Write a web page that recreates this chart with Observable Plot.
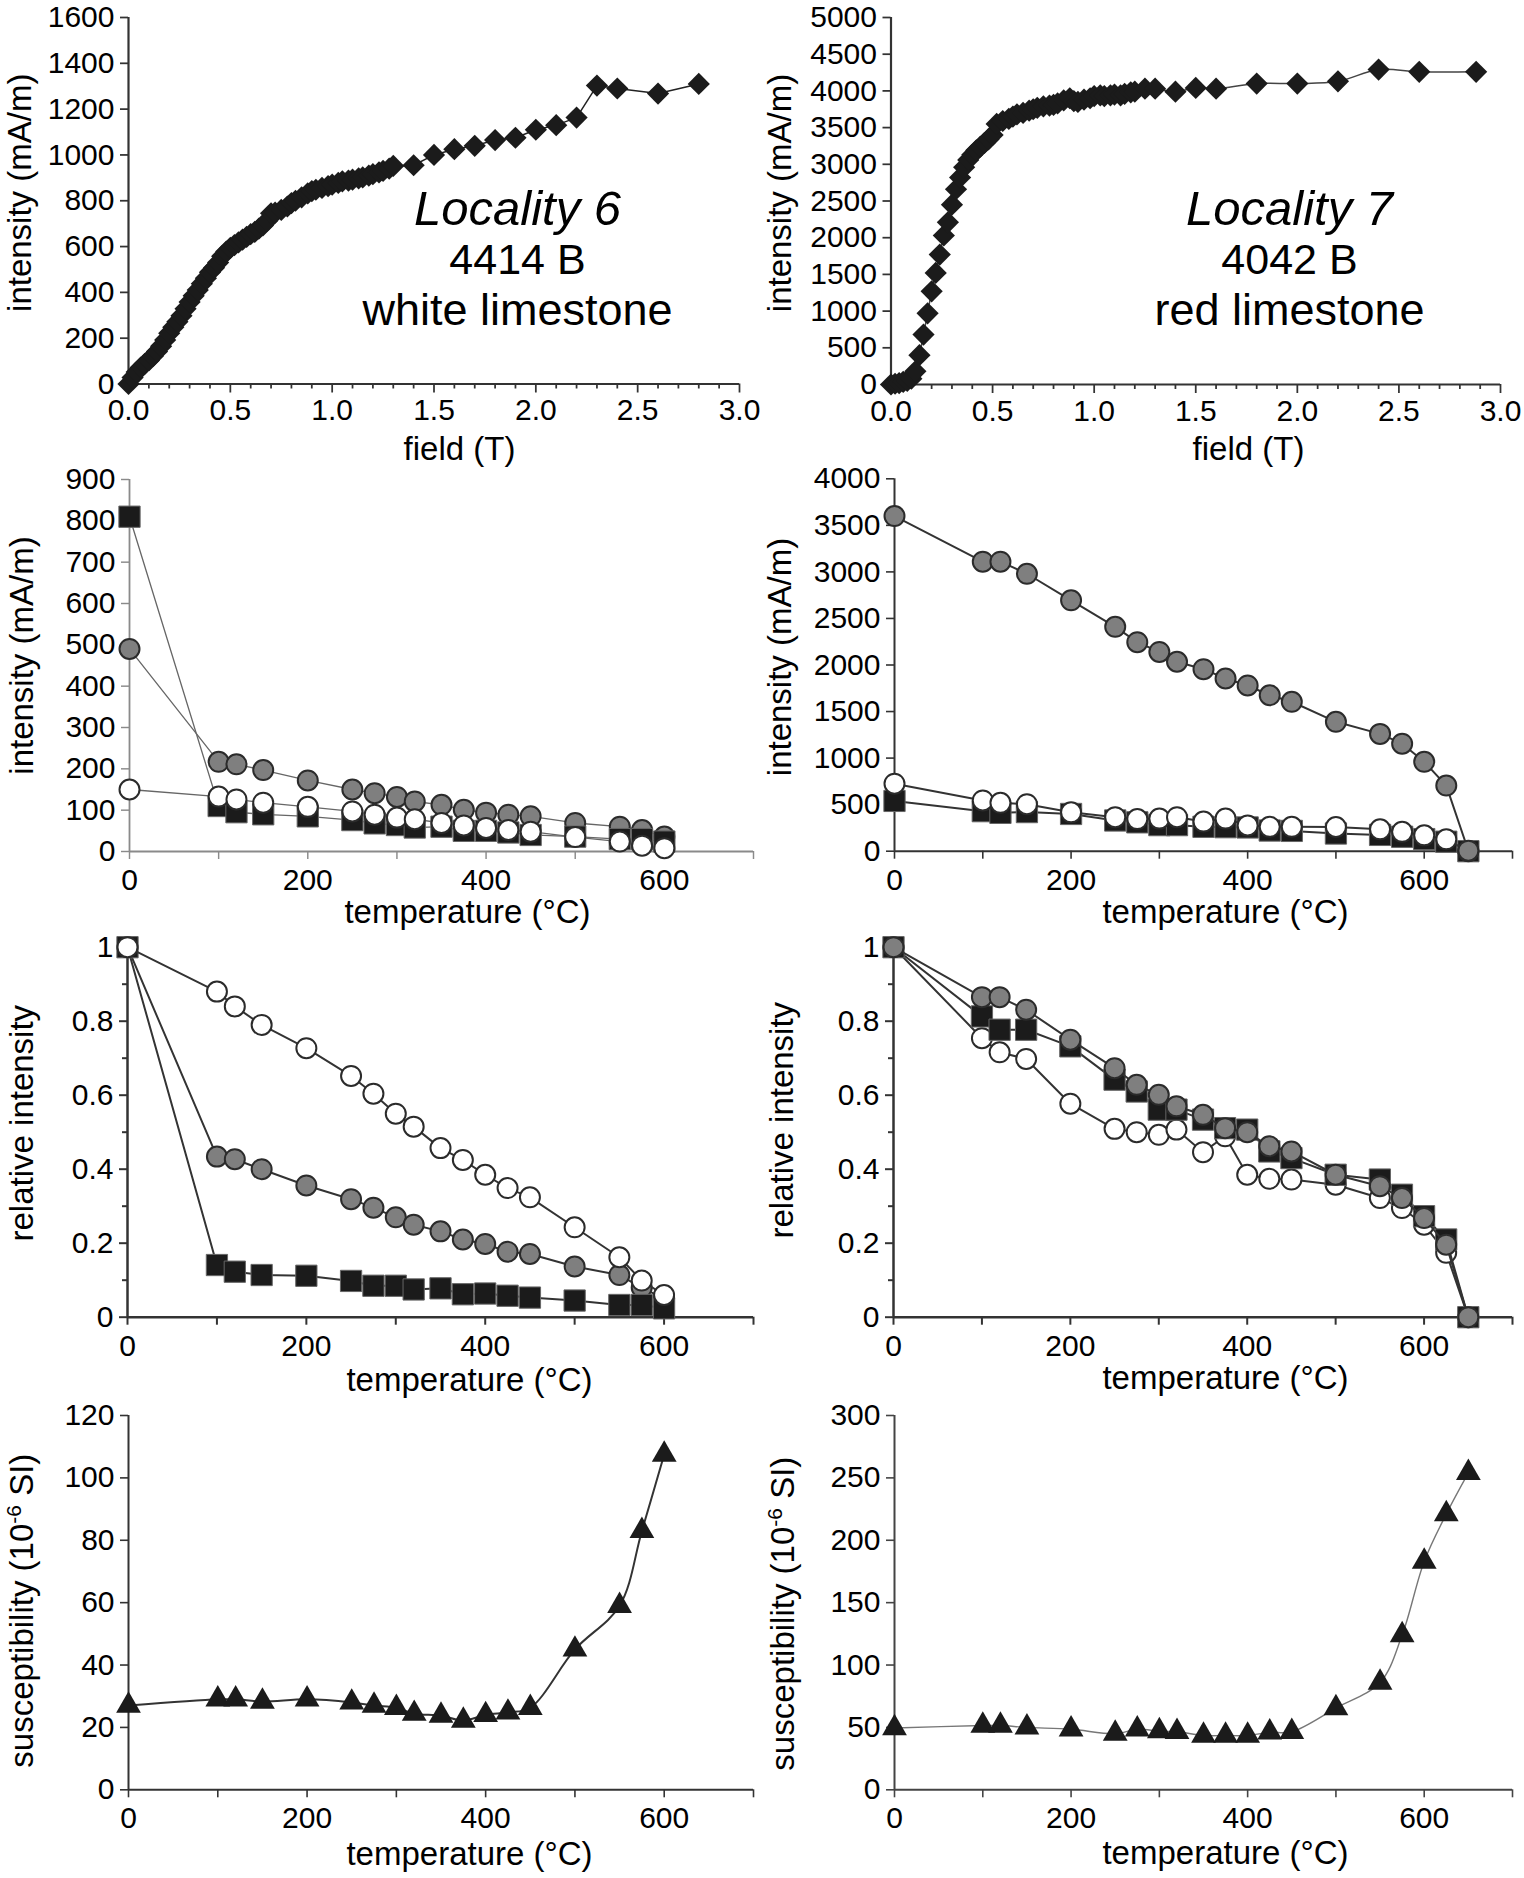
<!DOCTYPE html>
<html><head><meta charset="utf-8">
<script src="https://cdn.jsdelivr.net/npm/d3@7"></script>
<script src="https://cdn.jsdelivr.net/npm/@observablehq/plot@0.6"></script>
<style>
html,body{margin:0;padding:0;background:#fff;}
#wrap{position:relative;width:1524px;height:1878px;overflow:hidden;background:#fff;}
#wrap svg{position:absolute;}
</style></head><body><div id="wrap"></div>
<script>
const FONT = '"Liberation Sans", Arial, Helvetica, sans-serif';

// ---------------- data ----------------
// IRM acquisition, Locality 6 (4414 B, white limestone)
const irm6Field = [0,0.02,0.04,0.06,0.08,0.1,0.12,0.14,0.16,0.18,0.2,0.22,0.24,0.26,0.28,0.3,0.32,0.34,0.36,0.38,0.4,0.42,0.44,0.46,0.48,0.5,0.52,0.54,0.56,0.58,0.6,0.62,0.64,0.66,0.68,0.7,0.72,0.75,0.78,0.8,0.82,0.85,0.88,0.9,0.92,0.95,0.98,1.0,1.03,1.05,1.08,1.1,1.13,1.15,1.18,1.2,1.23,1.25,1.28,1.3,1.4,1.5,1.6,1.7,1.8,1.9,2.0,2.1,2.2,2.3,2.4,2.6,2.8];
const irm6Intensity = [0,28,52,72,88,103,122,142,165,192,222,248,272,298,328,358,385,410,438,462,488,508,530,558,578,594,606,618,630,642,654,664,678,692,712,745,748,760,775,790,800,815,832,842,848,856,864,870,878,885,888,892,898,902,910,916,924,930,940,952,955,1000,1025,1040,1065,1075,1110,1130,1163,1303,1290,1268,1310];
// IRM acquisition, Locality 7 (4042 B, red limestone)
const irm7Field = [0,0.02,0.04,0.06,0.08,0.1,0.12,0.14,0.16,0.18,0.2,0.22,0.24,0.26,0.28,0.3,0.32,0.34,0.36,0.38,0.4,0.42,0.44,0.46,0.48,0.5,0.52,0.55,0.58,0.6,0.62,0.65,0.68,0.7,0.72,0.75,0.78,0.8,0.82,0.85,0.88,0.9,0.92,0.95,0.98,1.0,1.03,1.05,1.08,1.1,1.13,1.15,1.18,1.2,1.25,1.3,1.4,1.5,1.6,1.8,2.0,2.2,2.4,2.6,2.88];
const irm7Intensity = [0,10,20,35,50,80,180,400,680,970,1270,1520,1770,2030,2210,2450,2660,2820,2960,3060,3130,3190,3240,3290,3340,3400,3550,3590,3620,3650,3680,3700,3730,3750,3770,3790,3800,3810,3830,3870,3900,3860,3850,3880,3900,3930,3940,3930,3940,3950,3940,3960,3980,3990,4030,4030,3990,4040,4030,4100,4100,4130,4290,4260,4260];

// thermal demagnetisation steps (°C)
const temps6 = [0,100,120,150,200,250,275,300,320,350,375,400,425,450,500,550,575,600];
const temps7 = [0,100,120,150,200,250,275,300,320,350,375,400,425,450,500,550,575,600,625,650];

// Locality 6 intensities (mA/m)
const int6Square = [810,110,95,90,85,76,68,64,58,60,50,50,46,40,36,30,30,24];
const int6Gray   = [490,217,211,197,172,150,141,132,121,113,101,94,89,85,69,60,52,36];
const int6White  = [150,133,126,118,108,97,89,82,78,69,63,57,52,48,35,24,14,8];
// Locality 7 intensities (mA/m)
const int7Square = [540,430,412,420,400,330,310,280,280,262,258,255,222,218,190,175,155,130,102,0];
const int7Gray   = [3600,3110,3110,2980,2695,2410,2245,2140,2035,1955,1855,1780,1675,1605,1390,1260,1155,960,705,5];
const int7White  = [725,545,520,505,418,365,345,350,365,318,350,276,262,262,260,235,208,170,128,0];

// Locality 6 relative intensities
const rel6Square = [1,0.141,0.123,0.114,0.112,0.098,0.085,0.085,0.075,0.078,0.062,0.064,0.058,0.053,0.045,0.033,0.033,0.024];
const rel6Gray   = [1,0.434,0.427,0.4,0.356,0.319,0.296,0.27,0.25,0.232,0.21,0.198,0.177,0.171,0.137,0.114,0.08,0.05];
const rel6White  = [1,0.88,0.84,0.79,0.727,0.652,0.604,0.55,0.515,0.457,0.425,0.385,0.349,0.324,0.243,0.162,0.099,0.06];
// Locality 7 relative intensities
const rel7Square = [1,0.813,0.777,0.777,0.732,0.642,0.61,0.561,0.561,0.534,0.511,0.507,0.448,0.43,0.385,0.372,0.331,0.273,0.21,0];
const rel7Gray   = [1,0.865,0.865,0.831,0.75,0.673,0.628,0.601,0.57,0.547,0.511,0.5,0.462,0.448,0.385,0.354,0.322,0.268,0.196,0];
const rel7White  = [1,0.754,0.716,0.698,0.577,0.509,0.5,0.493,0.507,0.446,0.489,0.385,0.374,0.372,0.358,0.322,0.295,0.25,0.174,0];

// susceptibility (10^-6 SI)
const sus6 = [27,29,29,28.3,29,28,27,26.3,24.4,23.8,22.2,24,24.8,26.3,45,59,83,107.5];
const sus7 = [49.5,51.5,51.5,50,48.5,45,48.5,47,46.5,43.5,43.5,43.5,46,46.5,65.5,86,124,183,221,254];

// ticks and labels
const fieldTicks = [0,0.5,1,1.5,2,2.5,3];
const fieldMinorTicks = [0.1,0.2,0.3,0.4,0.6,0.7,0.8,0.9,1.1,1.2,1.3,1.4,1.6,1.7,1.8,1.9,2.1,2.2,2.3,2.4,2.6,2.7,2.8,2.9];
const tempTicks = [0,100,200,300,400,500,600,700];
const tempTickLabels = [0,200,400,600];
const ticksInt6Irm = [0,200,400,600,800,1000,1200,1400,1600];
const ticksInt7Irm = [0,500,1000,1500,2000,2500,3000,3500,4000,4500,5000];
const ticksInt6 = [0,100,200,300,400,500,600,700,800,900];
const ticksInt7 = [0,500,1000,1500,2000,2500,3000,3500,4000];
const ticksRel = [0,0.2,0.4,0.6,0.8,1];
const ticksRelMinor = [0.1,0.3,0.5,0.7,0.9];
const ticksSus6 = [0,20,40,60,80,100,120];
const ticksSus7 = [0,50,100,150,200,250,300];

const labelIntensity = "intensity (mA/m)";
const labelRelative = "relative intensity";
const labelSus = "susceptibility (10-6 SI)";
const labelField = "field (T)";
const labelTemp = "temperature (°C)";
const notes6 = ["Locality 6", "4414 B", "white limestone"];
const notes7 = ["Locality 7", "4042 B", "red limestone"];

// ---------------- helpers ----------------
const wrap = document.getElementById("wrap");
const rows = (xs, ys) => xs.map((x, i) => ({x, y: ys[i]}));

const GRAY = "#7f7f7f", BLACK = "#1b1b1b", EDGE = "#2b2b2b";
const TICK_FS = 30, TITLE_FS = 33;

function series(data, kind, lineStroke, lineWidth, curve) {
  const m = [Plot.line(data, {x: "x", y: "y", stroke: lineStroke, strokeWidth: lineWidth, curve: curve || "linear"})];
  if (kind === "square") m.push(Plot.dot(data, {x: "x", y: "y", symbol: "square", r: 12, fill: BLACK, stroke: "#666", strokeWidth: 1}));
  if (kind === "gray") m.push(Plot.dot(data, {x: "x", y: "y", symbol: "circle", r: 10, fill: GRAY, stroke: EDGE, strokeWidth: 2}));
  if (kind === "white") m.push(Plot.dot(data, {x: "x", y: "y", symbol: "circle", r: 10, fill: "#fff", stroke: EDGE, strokeWidth: 2}));
  if (kind === "diamond") m.push(Plot.dot(data, {x: "x", y: "y", symbol: "diamond2", r: 10, fill: BLACK, stroke: "none"}));
  if (kind === "triangle") m.push(Plot.dot(data, {x: "x", y: "y", symbol: "triangle", r: 9.2, fill: BLACK, stroke: "none"}));
  return m;
}

function panel(cfg) {
  const {left, top, width, height, frame, xDomain, yDomain, axisColor, axisWidth} = cfg;
  const ml = frame.l - left, mr = left + width - frame.r, mt = frame.t - top, mb = top + height - frame.b;
  const marks = [];
  marks.push(Plot.ruleX([0], {stroke: axisColor, strokeWidth: axisWidth}));
  marks.push(Plot.ruleY([0], {stroke: axisColor, strokeWidth: axisWidth}));
  marks.push(Plot.axisX({ticks: cfg.xTicks, tickFormat: cfg.xFormat, tickSize: cfg.xTickSize, tickPadding: cfg.xTickPadding,
    fontSize: TICK_FS, fontFamily: FONT, stroke: axisColor, strokeWidth: axisWidth * 0.8, fill: "#000", label: null}));
  if (cfg.xMinor) marks.push(Plot.axisX({ticks: cfg.xMinor, tickFormat: () => "", tickSize: 5, stroke: axisColor, strokeWidth: axisWidth * 0.8, label: null}));
  marks.push(Plot.axisY({ticks: cfg.yTicks, tickFormat: cfg.yFormat, tickSize: 8, tickPadding: 6,
    fontSize: TICK_FS, fontFamily: FONT, stroke: axisColor, strokeWidth: axisWidth * 0.8, fill: "#000", label: null}));
  if (cfg.yMinor) marks.push(Plot.axisY({ticks: cfg.yMinor, tickFormat: () => "", tickSize: 5, stroke: axisColor, strokeWidth: axisWidth * 0.8, label: null}));
  marks.push(Plot.text([cfg.xTitle], {text: d => d, frameAnchor: "bottom-left", dx: cfg.xt[0] - frame.l, dy: cfg.xt[1] - frame.b,
    textAnchor: "middle", lineAnchor: "bottom", fontSize: TITLE_FS, fontFamily: FONT, fill: "#000"}));
  marks.push(Plot.text([cfg.yTitle], {text: d => d, frameAnchor: "left", rotate: -90, dx: cfg.yt[0] - frame.l, dy: cfg.yt[1],
    textAnchor: "middle", lineAnchor: "bottom", fontSize: TITLE_FS, fontFamily: FONT, fill: "#000"}));
  marks.push(...cfg.marks);
  const svg = Plot.plot({
    width, height, marginLeft: ml, marginRight: mr, marginTop: mt, marginBottom: mb,
    style: {overflow: "visible", background: "transparent", fontFamily: FONT, fontSize: TICK_FS + "px", maxWidth: "none"},
    x: {domain: xDomain, label: null}, y: {domain: yDomain, label: null},
    marks
  });
  svg.style.left = left + "px";
  svg.style.top = top + "px";
  wrap.appendChild(svg);
  return svg;
}

const fmtField = d => d.toFixed(1);
const fmtTemp = d => tempTickLabels.includes(d) ? String(d) : "";
const fmtRel = d => (d === 0 || d === 1) ? String(d) : d.toFixed(1);

function notes(lines, frame, cx) {
  const base = [224, 273, 324];
  return [
    Plot.text([lines[0]], {text: d => d, frameAnchor: "top-left", dx: cx - frame.l, dy: base[0] - frame.t, textAnchor: "middle", lineAnchor: "bottom", fontSize: 49, fontStyle: "italic", fontFamily: FONT, fill: "#000"}),
    Plot.text([lines[1]], {text: d => d, frameAnchor: "top-left", dx: cx - frame.l, dy: base[1] - frame.t, textAnchor: "middle", lineAnchor: "bottom", fontSize: 43, fontFamily: FONT, fill: "#000"}),
    Plot.text([lines[2]], {text: d => d, frameAnchor: "top-left", dx: cx - frame.l, dy: base[2] - frame.t, textAnchor: "middle", lineAnchor: "bottom", fontSize: 45, fontFamily: FONT, fill: "#000"})
  ];
}

// ---------------- panels ----------------
const F1 = {l: 128, r: 739, t: 17, b: 383.5};
panel({left: 0, top: 0, width: 762, height: 470, frame: F1, xDomain: [0, 3], yDomain: [0, 1600],
  axisColor: "#333", axisWidth: 2.2,
  xTicks: fieldTicks, xFormat: fmtField, xTickSize: 9, xTickPadding: 6, xMinor: fieldMinorTicks,
  yTicks: ticksInt6Irm, yFormat: d => String(d),
  xTitle: labelField, xt: [459, 459], yTitle: labelIntensity, yt: [30, -8],
  marks: [...series(rows(irm6Field, irm6Intensity), "diamond", "#222", 1.5), ...notes(notes6, F1, 517)]
});

const F2 = {l: 890.5, r: 1500, t: 17, b: 384};
panel({left: 762, top: 0, width: 762, height: 470, frame: F2, xDomain: [0, 3], yDomain: [0, 5000],
  axisColor: "#333", axisWidth: 2.2,
  xTicks: fieldTicks, xFormat: fmtField, xTickSize: 9, xTickPadding: 6, xMinor: fieldMinorTicks,
  yTicks: ticksInt7Irm, yFormat: d => String(d),
  xTitle: labelField, xt: [1248, 459], yTitle: labelIntensity, yt: [790, -8],
  marks: [...series(rows(irm7Field, irm7Intensity), "diamond", "#444", 1.5, "catmull-rom"), ...notes(notes7, F2, 1289)]
});

const F3 = {l: 129, r: 753, t: 479, b: 851};
panel({left: 0, top: 470, width: 762, height: 465, frame: F3, xDomain: [0, 700], yDomain: [0, 900],
  axisColor: "#8a8a8a", axisWidth: 1.8,
  xTicks: tempTicks, xFormat: fmtTemp, xTickSize: 8, xTickPadding: 9,
  yTicks: ticksInt6, yFormat: d => String(d),
  xTitle: labelTemp, xt: [467, 922], yTitle: labelIntensity, yt: [32, -10],
  marks: [
    ...series(rows(temps6, int6Gray), "gray", "#666", 1.3),
    ...series(rows(temps6, int6Square), "square", "#666", 1.3),
    ...series(rows(temps6, int6White), "white", "#666", 1.3)
  ]
});

const F4 = {l: 894, r: 1512, t: 478.3, b: 850.7};
panel({left: 762, top: 470, width: 762, height: 465, frame: F4, xDomain: [0, 700], yDomain: [0, 4000],
  axisColor: "#333", axisWidth: 2,
  xTicks: tempTicks, xFormat: fmtTemp, xTickSize: 8, xTickPadding: 9,
  yTicks: ticksInt7, yFormat: d => String(d),
  xTitle: labelTemp, xt: [1225, 922], yTitle: labelIntensity, yt: [790, -8],
  marks: [
    ...series(rows(temps7, int7Square), "square", "#333", 2),
    ...series(rows(temps7, int7White), "white", "#333", 2),
    ...series(rows(temps7, int7Gray), "gray", "#333", 2)
  ]
});

const F5 = {l: 127, r: 753, t: 946.7, b: 1316.7};
panel({left: 0, top: 935, width: 762, height: 470, frame: F5, xDomain: [0, 700], yDomain: [0, 1],
  axisColor: "#333", axisWidth: 2.5,
  xTicks: tempTicks, xFormat: fmtTemp, xTickSize: 8, xTickPadding: 9,
  yTicks: ticksRel, yFormat: fmtRel, yMinor: ticksRelMinor,
  xTitle: labelTemp, xt: [469, 1390], yTitle: labelRelative, yt: [32, -9],
  marks: [
    ...series(rows(temps6, rel6Gray), "gray", "#333", 2),
    ...series(rows(temps6, rel6Square), "square", "#333", 2),
    ...series(rows(temps6, rel6White), "white", "#333", 2)
  ]
});

const F6 = {l: 893, r: 1512, t: 946.7, b: 1316.7};
panel({left: 762, top: 935, width: 762, height: 470, frame: F6, xDomain: [0, 700], yDomain: [0, 1],
  axisColor: "#333", axisWidth: 2.5,
  xTicks: tempTicks, xFormat: fmtTemp, xTickSize: 8, xTickPadding: 9,
  yTicks: ticksRel, yFormat: fmtRel, yMinor: ticksRelMinor,
  xTitle: labelTemp, xt: [1225, 1388], yTitle: labelRelative, yt: [792, -12],
  marks: [
    ...series(rows(temps7, rel7White), "white", "#333", 2),
    ...series(rows(temps7, rel7Square), "square", "#333", 2),
    ...series(rows(temps7, rel7Gray), "gray", "#333", 2)
  ]
});

const F7 = {l: 128, r: 753, t: 1415, b: 1789.3};
const s7 = panel({left: 0, top: 1405, width: 762, height: 473, frame: F7, xDomain: [0, 700], yDomain: [0, 120],
  axisColor: "#333", axisWidth: 2,
  xTicks: tempTicks, xFormat: fmtTemp, xTickSize: 8, xTickPadding: 9,
  yTicks: ticksSus6, yFormat: d => String(d),
  xTitle: labelTemp, xt: [469, 1864], yTitle: labelSus, yt: [32, 8],
  marks: [...series(rows(temps6, sus6), "triangle", "#333", 2, "catmull-rom")]
});

const F8 = {l: 894, r: 1512, t: 1415, b: 1789.3};
const s8 = panel({left: 762, top: 1405, width: 762, height: 473, frame: F8, xDomain: [0, 700], yDomain: [0, 300],
  axisColor: "#444", axisWidth: 2,
  xTicks: tempTicks, xFormat: fmtTemp, xTickSize: 8, xTickPadding: 9,
  yTicks: ticksSus7, yFormat: d => String(d),
  xTitle: labelTemp, xt: [1225, 1863], yTitle: labelSus, yt: [793, 11],
  marks: [...series(rows(temps7, sus7), "triangle", "#777", 1.4, "catmull-rom")]
});

// superscript exponent in the susceptibility titles
for (const svg of [s7, s8]) {
  svg.querySelectorAll("text").forEach(t => {
    if (t.textContent === labelSus) {
      t.textContent = "";
      const ns = "http://www.w3.org/2000/svg";
      const a = document.createElementNS(ns, "tspan"); a.textContent = "susceptibility (10";
      const b = document.createElementNS(ns, "tspan"); b.textContent = "-6"; b.setAttribute("font-size", "21"); b.setAttribute("dy", "-12");
      const c = document.createElementNS(ns, "tspan"); c.textContent = " SI)"; c.setAttribute("dy", "12");
      t.appendChild(a); t.appendChild(b); t.appendChild(c);
    }
  });
}
</script></body></html>
